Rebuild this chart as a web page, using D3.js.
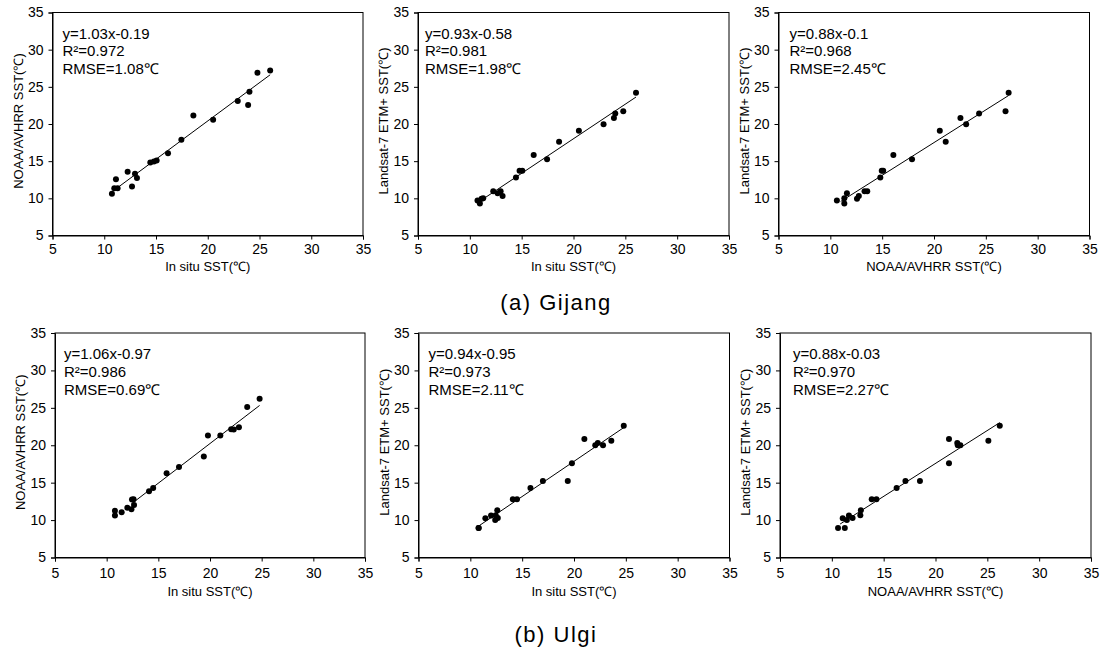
<!DOCTYPE html>
<html><head><meta charset="utf-8">
<script src="https://cdn.jsdelivr.net/npm/d3@7"></script>
<style>
body{margin:0;background:#fff}
svg{display:block}
text{font-family:"Liberation Sans",Arial,sans-serif;fill:#000}
</style>
</head><body>
<svg id="c" width="1100" height="651"></svg>
<script>
// ---------- data ----------
const tickValues = [5, 10, 15, 20, 25, 30, 35];

// Gijang stations
const gijangInsitu  = [10.74, 10.97, 11.13, 11.29, 12.26, 12.68, 12.97, 13.16, 14.45, 14.8, 15.06, 16.16, 17.45, 18.61, 20.52, 22.9, 23.9, 24.03, 24.8, 26.03];
const gijangNoaa    = [10.63, 11.35, 12.57, 11.35, 13.56, 11.6, 13.3, 12.75, 14.82, 14.96, 15.1, 16.08, 17.88, 21.13, 20.56, 23.1, 22.55, 24.35, 26.9, 27.2];
const gijangLandsat = [9.7, 9.3, 9.95, 10.0, 10.94, 10.7, 10.94, 10.33, 12.8, 13.72, 13.72, 15.84, 15.25, 17.6, 19.1, 19.95, 20.8, 21.4, 21.7, 24.2];

// Ulgi stations
const ulgiInsitu  = [10.8, 10.8, 11.45, 12.0, 12.4, 12.45, 12.6, 12.65, 14.1, 14.5, 15.8, 17.0, 19.4, 19.8, 21.0, 22.05, 22.3, 22.8, 23.6, 24.8];
const ulgiNoaa    = [10.6, 11.25, 11.05, 11.65, 11.45, 12.75, 12.8, 12.0, 13.85, 14.3, 16.25, 17.1, 18.5, 21.3, 21.3, 22.15, 22.1, 22.4, 25.1, 26.2];
const ulgiLandsat = [8.95, 8.95, 10.25, 10.6, 10.0, 10.65, 11.3, 10.28, 12.77, 12.77, 14.3, 15.22, 15.22, 17.6, 20.85, 20.0, 20.3, 20.0, 20.6, 22.6];

const slopes     = [1.03, 0.93, 0.88, 1.06, 0.94, 0.88];
const intercepts = [-0.19, -0.58, -0.1, -0.97, -0.95, -0.03];
const equationLabels = ["y=1.03x-0.19", "y=0.93x-0.58", "y=0.88x-0.1", "y=1.06x-0.97", "y=0.94x-0.95", "y=0.88x-0.03"];
const r2Labels   = ["R\u00B2=0.972", "R\u00B2=0.981", "R\u00B2=0.968", "R\u00B2=0.986", "R\u00B2=0.973", "R\u00B2=0.970"];
const rmseLabels = ["RMSE=1.08\u2103", "RMSE=1.98\u2103", "RMSE=2.45\u2103", "RMSE=0.69\u2103", "RMSE=2.11\u2103", "RMSE=2.27\u2103"];
const lineRanges = [[11.0, 26.03], [10.77, 26.03], [11.0, 27.2], [12.4, 24.8], [10.8, 24.8], [10.8, 26.2]];

const xTitles = ["In situ SST(\u2103)", "In situ SST(\u2103)", "NOAA/AVHRR SST(\u2103)", "In situ SST(\u2103)", "In situ SST(\u2103)", "NOAA/AVHRR SST(\u2103)"];
const yTitles = ["NOAA/AVHRR SST(\u2103)", "Landsat-7 ETM+ SST(\u2103)", "Landsat-7 ETM+ SST(\u2103)", "NOAA/AVHRR SST(\u2103)", "Landsat-7 ETM+ SST(\u2103)", "Landsat-7 ETM+ SST(\u2103)"];
const captions = ["(a)  Gijang", "(b)  Ulgi"];

const panelX = [gijangInsitu, gijangInsitu, gijangNoaa, ulgiInsitu, ulgiInsitu, ulgiNoaa];
const panelY = [gijangNoaa, gijangLandsat, gijangLandsat, ulgiNoaa, ulgiLandsat, ulgiLandsat];

// ---------- layout ----------
const boxes = [
  {l: 52.5, r: 363, t: 12.5, b: 235.5, ax: 10, lab: 16.5, tit: 271},
  {l: 418, r: 729, t: 12.5, b: 235.5, ax: 7, lab: 16.5, tit: 271},
  {l: 778.5, r: 1089.5, t: 12.5, b: 235.5, ax: 11, lab: 16.5, tit: 271},
  {l: 55, r: 365, t: 333, b: 557.5, ax: 9, lab: 19, tit: 596},
  {l: 418.5, r: 729.5, t: 333, b: 557.5, ax: 10, lab: 19, tit: 596},
  {l: 780, r: 1091, t: 333, b: 557.5, ax: 13, lab: 19, tit: 596}
];
const captionPos = [{x: 556, y: 310}, {x: 556, y: 642}];

const svg = d3.select("#c");

boxes.forEach((bx, i) => {
  const x = d3.scaleLinear().domain([5, 35]).range([bx.l, bx.r]);
  const y = d3.scaleLinear().domain([5, 35]).range([bx.b, bx.t]);
  const g = svg.append("g");

  // frame
  g.append("rect").attr("x", bx.l).attr("y", bx.t)
    .attr("width", bx.r - bx.l).attr("height", bx.b - bx.t)
    .attr("fill", "none").attr("stroke", "#000").attr("stroke-width", 1);

  const ya = g.append("g").attr("transform", `translate(${bx.l},0)`)
    .call(d3.axisLeft(y).tickValues(tickValues).tickSize(4).tickPadding(5).tickFormat(d3.format("d")));
  const xa = g.append("g").attr("transform", `translate(0,${bx.b})`)
    .call(d3.axisBottom(x).tickValues(tickValues).tickSize(4).tickPadding(bx.lab - 12).tickFormat(d3.format("d")));
  [ya, xa].forEach(a => {
    a.select(".domain").attr("stroke", "#000");
    a.selectAll(".tick line").attr("stroke", "#000");
    a.selectAll(".tick text").attr("font-size", 14).attr("font-family", '"Liberation Sans",Arial,sans-serif').attr("fill", "#000");
  });

  // regression line
  const lr = lineRanges[i];
  g.append("line")
    .attr("x1", x(lr[0])).attr("y1", y(slopes[i] * lr[0] + intercepts[i]))
    .attr("x2", x(lr[1])).attr("y2", y(slopes[i] * lr[1] + intercepts[i]))
    .attr("stroke", "#000").attr("stroke-width", 1);

  // points
  const pts = panelX[i].map((v, k) => [v, panelY[i][k]]);
  g.selectAll("circle.p").data(pts).enter().append("circle")
    .attr("cx", d => x(d[0])).attr("cy", d => y(d[1])).attr("r", 3)
    .attr("fill", "#000");

  // annotation
  const ann = [equationLabels[i], r2Labels[i], rmseLabels[i]];
  ann.forEach((s, k) => {
    g.append("text").attr("x", bx.l + bx.ax).attr("y", bx.t + 26 + k * 17.8)
      .attr("font-size", 15).text(s);
  });

  // axis titles
  g.append("text").attr("x", (bx.l + bx.r) / 2).attr("y", bx.tit)
    .attr("text-anchor", "middle").attr("font-size", 13).text(xTitles[i]);
  const cy = (bx.t + bx.b) / 2 - 3;
  g.append("text").attr("transform", `translate(${bx.l - 30},${cy}) rotate(-90)`)
    .attr("text-anchor", "middle").attr("font-size", 13).text(yTitles[i]);
});

captions.forEach((c, i) => {
  svg.append("text").attr("x", captionPos[i].x).attr("y", captionPos[i].y)
    .attr("text-anchor", "middle").attr("font-size", 22).attr("letter-spacing", 1.5)
    .text(c);
});
</script>
</body></html>
